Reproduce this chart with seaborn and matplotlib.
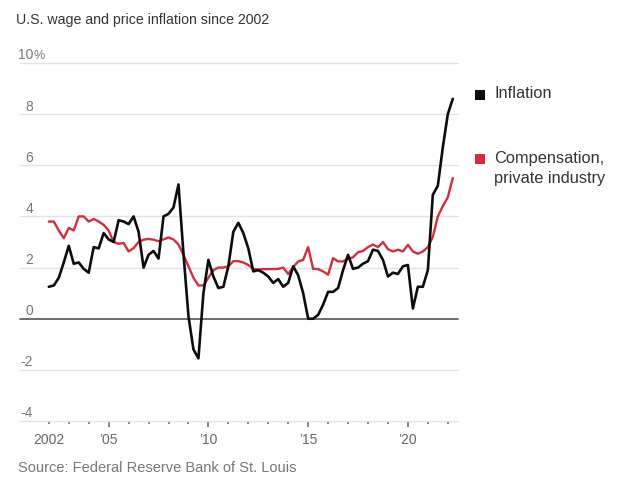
import numpy as np
import pandas as pd
import matplotlib
matplotlib.use("Agg")
import matplotlib.pyplot as plt
from matplotlib import font_manager as fm
from matplotlib.patches import Rectangle
import seaborn as sns

# ---------------- data (quarterly, 2002Q1 .. 2022Q2) ----------------
start_quarter = "2002Q1"
end_quarter = "2022Q2"

inflation = [
    1.25, 1.3, 1.6, 2.2,      # 2002
    2.85, 2.15, 2.2, 1.95,    # 2003
    1.8, 2.8, 2.75, 3.35,     # 2004
    3.1, 3.0, 3.85, 3.8,      # 2005
    3.7, 4.0, 3.4, 2.0,       # 2006
    2.5, 2.65, 2.35, 4.0,     # 2007
    4.1, 4.35, 5.25, 2.55,    # 2008
    0.1, -1.2, -1.55, 1.0,    # 2009
    2.3, 1.65, 1.2, 1.25,     # 2010
    2.05, 3.4, 3.75, 3.35,    # 2011
    2.75, 1.85, 1.9, 1.8,     # 2012
    1.65, 1.4, 1.55, 1.25,    # 2013
    1.4, 2.05, 1.7, 1.0,      # 2014
    0.0, 0.0, 0.15, 0.55,     # 2015
    1.05, 1.05, 1.2, 1.9,     # 2016
    2.5, 1.95, 2.0, 2.15,     # 2017
    2.25, 2.7, 2.65, 2.3,     # 2018
    1.65, 1.8, 1.75, 2.05,    # 2019
    2.1, 0.4, 1.25, 1.25,     # 2020
    1.9, 4.85, 5.2, 6.7,      # 2021
    8.0, 8.6,                 # 2022
]

compensation = [
    3.8, 3.8, 3.45, 3.15,     # 2002
    3.55, 3.45, 4.0, 4.0,     # 2003
    3.8, 3.9, 3.8, 3.67,      # 2004
    3.45, 3.0, 2.93, 2.96,    # 2005
    2.63, 2.76, 3.0, 3.09,    # 2006
    3.12, 3.09, 3.03, 3.1,    # 2007
    3.18, 3.1, 2.9, 2.5,      # 2008
    2.05, 1.6, 1.3, 1.3,      # 2009
    1.6, 1.9, 2.0, 2.0,       # 2010
    2.05, 2.25, 2.25, 2.2,    # 2011
    2.1, 1.95, 1.92, 1.94,    # 2012
    1.94, 1.94, 1.95, 2.0,    # 2013
    1.75, 2.02, 2.24, 2.3,    # 2014
    2.8, 1.95, 1.94, 1.85,    # 2015
    1.72, 2.37, 2.24, 2.24,   # 2016
    2.35, 2.4, 2.6, 2.65,     # 2017
    2.8, 2.9, 2.8, 3.0,       # 2018
    2.72, 2.63, 2.7, 2.63,    # 2019
    2.89, 2.63, 2.54, 2.63,   # 2020
    2.8, 3.2, 4.0, 4.4,       # 2021
    4.75, 5.5,                # 2022
]

y_ticks = [10, 8, 6, 4, 2, 0, -2, -4]
y_tick_labels = ["10%", "8", "6", "4", "2", "0", "-2", "-4"]
x_major = [2002, 2005, 2010, 2015, 2020]
x_major_labels = ["2002", "\u201905", "\u201910", "\u201915", "\u201920"]
x_minor = list(range(2002, 2023))

series_names = ["Inflation", "Compensation,\nprivate industry"]
title = "U.S. wage and price inflation since 2002"
source = "Source: Federal Reserve Bank of St. Louis"

# ---------------- frame ----------------
quarters = pd.period_range(start_quarter, end_quarter, freq="Q")
t = quarters.year + (quarters.quarter - 1) / 4.0
df = pd.DataFrame({"t": t, "Inflation": inflation, "Compensation": compensation})

# ---------------- style ----------------
sns.set_theme(style="white")


def has_font(name):
    try:
        fm.findfont(fm.FontProperties(family=name), fallback_to_default=False)
        return True
    except Exception:
        return False


main_font = "Liberation Sans" if has_font("Liberation Sans") else "DejaVu Sans"
narrow_font = "Liberation Sans Narrow" if has_font("Liberation Sans Narrow") else main_font
plt.rcParams["font.family"] = [main_font, "DejaVu Sans"]

W, H = 630, 490
fig = plt.figure(figsize=(W / 100, H / 100), dpi=100)
fig.patch.set_facecolor("white")

ax_left, ax_right, ax_top, ax_bottom = 20, 458, 63, 421
ax = fig.add_axes([ax_left / W, 1 - ax_bottom / H, (ax_right - ax_left) / W, (ax_bottom - ax_top) / H])

px_per_year = 19.95
x0_px = 48.8  # pixel of 2002.0
xmin = 2002 - (x0_px - ax_left) / px_per_year
xmax = 2002 + (ax_right - x0_px) / px_per_year
ax.set_xlim(xmin, xmax)
ax.set_ylim(-4, 10)

for s in ax.spines.values():
    s.set_visible(False)

# gridlines
for v in y_ticks:
    if v == 0:
        continue
    ax.axhline(v, color="#e3e3e3", lw=1.0, zorder=1, clip_on=False)
ax.axhline(0, color="#555555", lw=1.2, zorder=2, clip_on=False)

# lines
red = "#d22f3c"
sns.lineplot(data=df, x="t", y="Compensation", color=red, linewidth=1.7, ax=ax, zorder=3)
sns.lineplot(data=df, x="t", y="Inflation", color="#0d0d0d", linewidth=1.9, ax=ax, zorder=4)
ax.set_xlabel("")
ax.set_ylabel("")

# y tick labels above gridlines
ax.set_yticks([])
lab_x = (33 - ax_left) / (ax_right - ax_left)
for v, lab in zip(y_ticks, y_tick_labels):
    if lab.endswith("%"):
        ax.annotate(lab[:-1], xy=(lab_x, v), xycoords=ax.get_yaxis_transform(),
                    xytext=(0, 2.6), textcoords="offset points", ha="right", va="baseline",
                    fontsize=10, color="#777777", family=narrow_font, annotation_clip=False)
        ax.annotate("%", xy=(lab_x, v), xycoords=ax.get_yaxis_transform(),
                    xytext=(0, 2.6), textcoords="offset points", ha="left", va="baseline",
                    fontsize=9, color="#777777", family=narrow_font, annotation_clip=False)
    else:
        ax.annotate(lab, xy=(lab_x, v), xycoords=ax.get_yaxis_transform(),
                    xytext=(0, 2.6), textcoords="offset points", ha="right", va="baseline",
                    fontsize=10, color="#777777", family=narrow_font, annotation_clip=False)

# x ticks
ax.set_xticks(x_major)
ax.set_xticklabels(x_major_labels)
ax.set_xticks([x for x in x_minor if x not in x_major[1:]], minor=True)
ax.tick_params(axis="x", which="major", bottom=True, length=4.2, width=1.1, color="#666666",
               pad=4.5, labelsize=10, labelcolor="#666666", direction="out")
ax.tick_params(axis="x", which="minor", bottom=True, length=2.0, width=1.1, color="#666666",
               direction="out")
# 2002 has only a short tick
for tl in ax.xaxis.get_major_ticks():
    if abs(tl.get_loc() - 2002) < 1e-6:
        tl.tick1line.set_markersize(2.0)
for lbl in ax.get_xticklabels():
    lbl.set_family(narrow_font)

# title and source
fig.text(16 / W, 1 - 24 / H, title, fontsize=10.2, color="#333333", ha="left", va="baseline")
fig.text(18 / W, 1 - 472 / H, source, fontsize=10.5, color="#777777", ha="left", va="baseline")

# legend
sq = 10
legend_items = [("#0d0d0d", 95, [(series_names[0], 98.5)]),
                (red, 159, [("Compensation,", 163), ("private industry", 183.5)])]
for col, cy, lines in legend_items:
    fig.add_artist(Rectangle(((480 - sq / 2) / W, 1 - (cy + sq / 2) / H), sq / W, sq / H,
                             transform=fig.transFigure, facecolor=col, edgecolor="none"))
    for txt, base in lines:
        fig.text(494 / W, 1 - base / H, txt, fontsize=11.8, color="#333333",
                 ha="left", va="baseline")

fig.savefig("out.png", dpi=100, facecolor="white")
